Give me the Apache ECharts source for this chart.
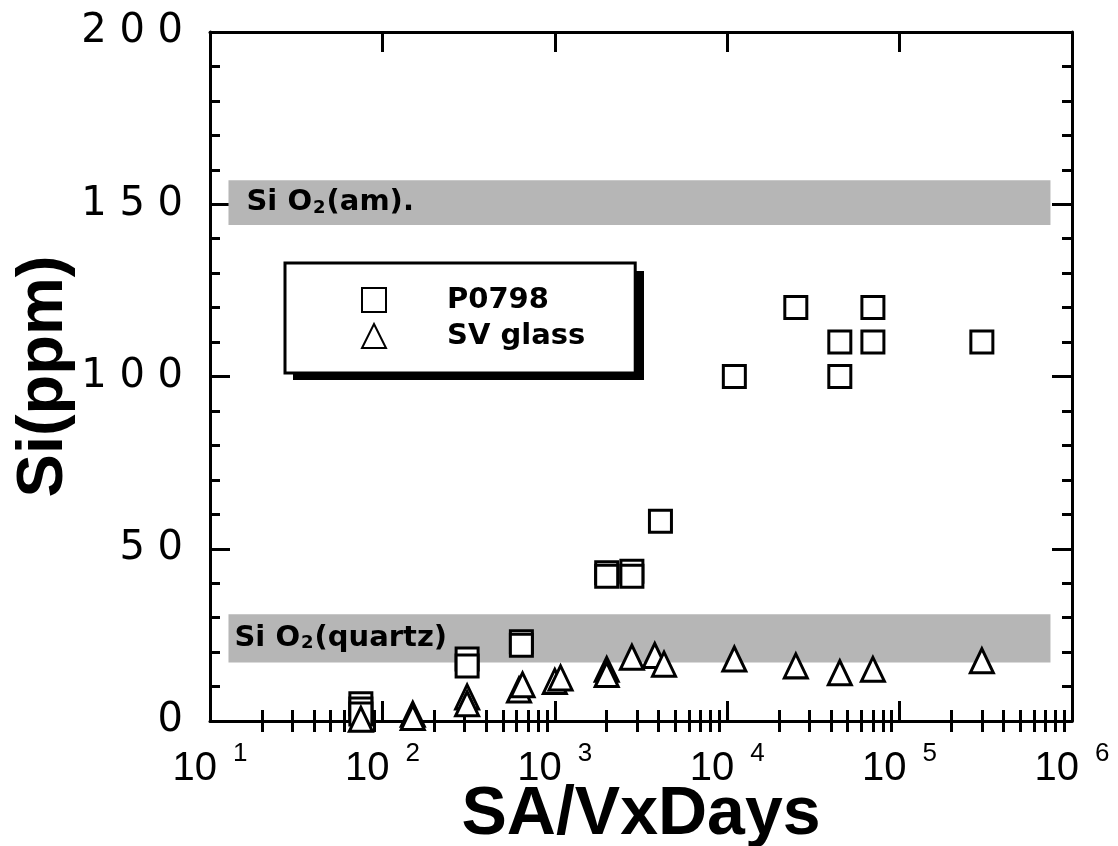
<!DOCTYPE html>
<html>
<head>
<meta charset="utf-8">
<script src="https://cdn.jsdelivr.net/npm/echarts@6/dist/echarts.min.js"></script>
<style>
  html, body { margin: 0; padding: 0; background: #fff; }
  #chart { width: 1118px; height: 846px; }
</style>
</head>
<body>
<div id="chart"></div>
<script>
// Dissolved silica vs. surface-area-to-volume × time
const xDecades = [10, 100, 1000, 10000, 100000, 1000000];
const xMinorSteps = [2, 3, 4, 5, 6, 7, 8, 9];
const yTicks = [0, 50, 100, 150, 200];

// P0798 (squares)
const p0798X = [75, 75, 75, 310, 310, 640, 640, 2000, 2000, 2800, 2800, 4100, 11000, 25000, 45000, 45000, 70000, 70000, 300000];
const p0798Y = [5, 3.5, 2, 18, 16, 23, 22, 43, 42, 43.5, 42, 58, 100, 120, 110, 100, 120, 110, 110];

// SV glass (triangles)
const svGlassX = [75, 150, 150, 310, 310, 620, 650, 1000, 1080, 2000, 2000, 2800, 3800, 4300, 11000, 25000, 45000, 70000, 300000];
const svGlassY = [0.5, 2, 1, 7, 5, 9, 10.5, 11.5, 12.5, 15, 13.5, 18.5, 19, 16.5, 18, 16, 14, 15, 17.5];

// Solubility bands (ppm) and their horizontal extent
const bandAm = [144, 157];
const bandQuartz = [17, 31];
const bandXRange = [12.8, 750000];

const xMinor = [];
xDecades.slice(0, -1).forEach(d => xMinorSteps.forEach(m => xMinor.push(m * d)));

const zip = (xs, ys) => xs.map((x, i) => [x, ys[i]]);

const axisColor = '#000';
const logAxisBase = {
  type: 'log', logBase: 10, min: 10, max: 1000000, gridIndex: 0,
  splitLine: { show: false }, minorTick: { show: false }
};

const bandLabelRich = {
  a: { fontFamily: 'DejaVu Sans', fontWeight: 'bold', fontSize: 29, color: '#000' },
  s: { fontFamily: 'DejaVu Sans', fontWeight: 'bold', fontSize: 18, color: '#000', verticalAlign: 'bottom', padding: [0, 1, 0, 1] }
};

const chart = echarts.init(document.getElementById('chart'), null, { renderer: 'canvas' });
chart.setOption({
  backgroundColor: '#fff',
  animation: false,
  grid: { left: 210, right: 46, top: 32, bottom: 125, outerBoundsMode: 'none', containLabel: false },
  // drop shadow of the legend box
  graphic: [
    { type: 'rect', z: 3, silent: true, left: 293, top: 271, shape: { width: 351, height: 109 }, style: { fill: '#000' } }
  ],
  legend: {
    data: ['P0798', 'SV glass'],
    orient: 'vertical',
    left: 285, top: 263,
    padding: [22, 50, 22, 76],
    itemGap: 6,
    itemWidth: 24, itemHeight: 24,
    selectedMode: false,
    backgroundColor: '#fff',
    borderColor: '#000', borderWidth: 3, borderRadius: 0,
    textStyle: { fontFamily: 'DejaVu Sans', fontWeight: 'bold', fontSize: 29, color: '#000', lineHeight: 30, padding: [0, 0, 0, 56] }
  },
  xAxis: [
    Object.assign({}, logAxisBase, {
      position: 'bottom',
      name: 'SA/VxDays', nameLocation: 'middle', nameGap: 60, nameMoveOverlap: false,
      nameTextStyle: { fontFamily: 'Liberation Sans', fontWeight: 'bold', fontSize: 68, color: '#000' },
      axisLine: { show: true, onZero: false, lineStyle: { color: axisColor, width: 3 } },
      axisTick: { show: true, inside: true, length: 20, customValues: xDecades, lineStyle: { color: axisColor, width: 3 } },
      axisLabel: {
        show: true, margin: 20, customValues: xDecades,
        formatter: v => '{n|10}{s|' + Math.round(Math.log10(v)) + '}',
        rich: {
          n: { fontFamily: 'Liberation Sans', fontSize: 40, color: '#000', lineHeight: 44 },
          s: { fontFamily: 'Liberation Sans', fontSize: 26, color: '#000', verticalAlign: 'bottom', padding: [0, 0, 30, 16] }
        }
      }
    }),
    Object.assign({}, logAxisBase, {
      position: 'bottom',
      axisLine: { show: false },
      axisTick: { show: true, inside: true, length: 11, customValues: xMinor, lineStyle: { color: axisColor, width: 3 } },
      axisLabel: { show: false }
    }),
    Object.assign({}, logAxisBase, {
      position: 'top',
      axisLine: { show: true, onZero: false, lineStyle: { color: axisColor, width: 3 } },
      axisTick: { show: true, inside: true, length: 20, customValues: xDecades, lineStyle: { color: axisColor, width: 3 } },
      axisLabel: { show: false }
    }),
    Object.assign({}, logAxisBase, {
      position: 'top',
      axisLine: { show: false },
      axisTick: { show: true, inside: true, length: 11, customValues: xMinor, lineStyle: { color: axisColor, width: 3 } },
      axisLabel: { show: false }
    })
  ],
  yAxis: [
    {
      type: 'value', min: 0, max: 200, interval: 50, position: 'left',
      name: 'Si(ppm)', nameLocation: 'middle', nameGap: 133, nameRotate: 90, nameMoveOverlap: false,
      nameTextStyle: { fontFamily: 'Liberation Sans', fontWeight: 'bold', fontSize: 65, color: '#000' },
      axisLine: { show: true, onZero: false, lineStyle: { color: axisColor, width: 3 } },
      axisTick: { show: true, inside: true, length: 20, lineStyle: { color: axisColor, width: 3 } },
      minorTick: { show: true, splitNumber: 5, length: 10, lineStyle: { color: axisColor, width: 3 } },
      axisLabel: {
        show: true, margin: 27, customValues: yTicks,
        formatter: v => String(v).split('').join(' '),
        fontFamily: 'DejaVu Sans', fontSize: 40, color: '#000'
      },
      splitLine: { show: false }
    },
    {
      type: 'value', min: 0, max: 200, interval: 50, position: 'right',
      axisLine: { show: true, onZero: false, lineStyle: { color: axisColor, width: 3 } },
      axisTick: { show: true, inside: true, length: 20, lineStyle: { color: axisColor, width: 3 } },
      minorTick: { show: true, splitNumber: 5, length: 10, lineStyle: { color: axisColor, width: 3 } },
      axisLabel: { show: false },
      splitLine: { show: false }
    }
  ],
  series: [
    {
      name: 'bands', type: 'scatter', xAxisIndex: 0, yAxisIndex: 0, z: 1,
      data: [], silent: true,
      markArea: {
        silent: true,
        itemStyle: { color: '#b6b6b6' },
        label: { show: true, position: 'insideLeft', rich: bandLabelRich },
        data: [
          [
            { xAxis: bandXRange[0], yAxis: bandAm[0], label: { formatter: '{a|Si O}{s|2}{a|(am).}', distance: 18 } },
            { xAxis: bandXRange[1], yAxis: bandAm[1] }
          ],
          [
            { xAxis: bandXRange[0], yAxis: bandQuartz[0], label: { formatter: '{a|Si O}{s|2}{a|(quartz)}', distance: 6 } },
            { xAxis: bandXRange[1], yAxis: bandQuartz[1] }
          ]
        ]
      }
    },
    {
      name: 'P0798', type: 'scatter', xAxisIndex: 0, yAxisIndex: 0, z: 3,
      symbol: 'rect', symbolSize: 22,
      itemStyle: { color: '#fff', borderColor: '#000', borderWidth: 3, opacity: 1 },
      data: zip(p0798X, p0798Y)
    },
    {
      name: 'SV glass', type: 'scatter', xAxisIndex: 0, yAxisIndex: 0, z: 3,
      symbol: 'triangle', symbolSize: [23, 24],
      itemStyle: { color: '#fff', borderColor: '#000', borderWidth: 3, opacity: 1 },
      data: zip(svGlassX, svGlassY)
    }
  ]
});
</script>
</body>
</html>
